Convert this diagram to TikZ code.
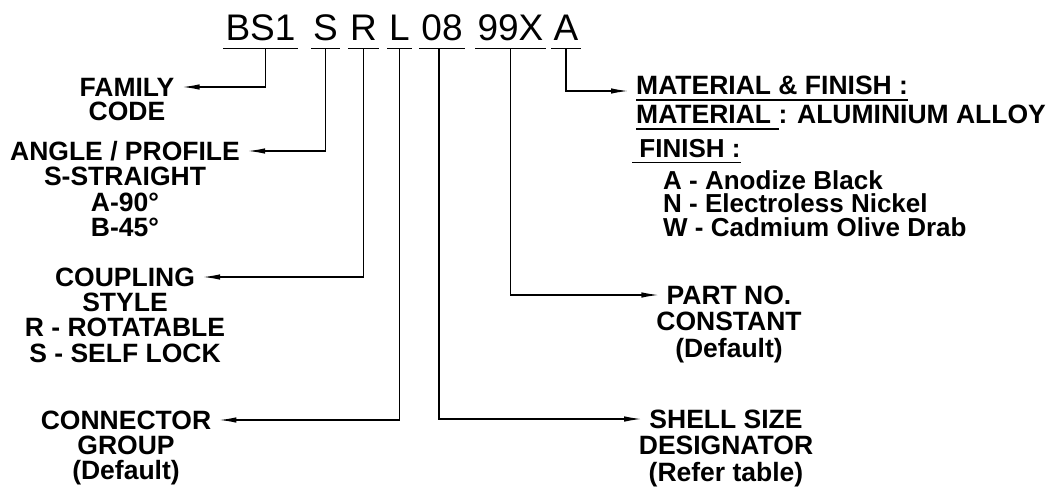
\documentclass[tikz,border=0pt]{standalone}
\usepackage{fontspec}
\setmainfont{Liberation Sans}
\usetikzlibrary{positioning,arrows.meta}

% underline with a rule a little below the baseline
\newsavebox{\ulbox}
\newcommand{\undl}[1]{\sbox{\ulbox}{#1}\rlap{\rule[-6pt]{\wd\ulbox}{1.2pt}}\usebox{\ulbox}}

\begin{document}
\begin{tikzpicture}[x=1pt,y=-1pt,
    code/.style={font=\fontsize{37}{37}\selectfont, anchor=base,
        inner xsep=2pt, inner ysep=8pt, text depth=0pt},
    head/.style={font=\fontsize{26.5}{25.5}\selectfont\bfseries,
        inner xsep=8pt, inner ysep=0pt},
    body/.style={font=\fontsize{26.5}{25.5}\selectfont\bfseries,
        inner sep=0pt, align=center},
    bodywide/.style={body, font=\fontsize{26.5}{26.5}\selectfont\bfseries},
    info/.style={font=\fontsize{26}{23.5}\selectfont\bfseries,
        inner sep=0pt, anchor=base west},
    conn/.style={line width=1.2pt, -{Latex[length=17pt,width=5.5pt]}}]
    \useasboundingbox (0,0) rectangle (1059,490);

    % Part number code
    \node[code] (bs) at (260.5,40) {BS1};
    \node[code] (st) at (325.5,40) {S};
    \node[code] (cp) at (363.5,40) {R};
    \node[code] (gr) at (399.5,40) {L};
    \node[code] (sz) at (442,40) {08};
    \node[code] (pn) at (510.5,40) {99X};
    \node[code] (mf) at (566,40) {A};
    \foreach \c in {bs,st,cp,gr,sz,pn,mf}
        \draw[line width=1.2pt] (\c.south west) -- (\c.south east);

    % Left descriptions
    \node[head] (fam) at (127,87) {FAMILY};
    \node[body, below=5pt of fam] {CODE};

    \node[head] (angle) at (125,151) {ANGLE / PROFILE};
    \node[body, below=6pt of angle] {S-STRAIGHT\\A-90°\\B-45°};

    \node[head] (coup) at (125,277) {COUPLING};
    \node[body, below=6pt of coup] {STYLE\\R - ROTATABLE\\S - SELF LOCK};

    \node[head] (grp) at (126,420) {CONNECTOR};
    \node[body, below=6pt of grp] {GROUP\\(Default)};

    % Right descriptions
    \node[head] (part) at (729,295) {PART NO.};
    \node[bodywide, below=7.5pt of part] {CONSTANT\\(Default)};

    \node[head] (shell) at (726,419) {SHELL SIZE};
    \node[bodywide, below=7.5pt of shell] {DESIGNATOR\\(Refer table)};

    % Material and finish
    \node[head, anchor=base west] (mat) at (628,94.5) {\undl{MATERIAL \& FINISH :}};
    \node[info, font=\fontsize{26.5}{26.5}\selectfont\bfseries] (matl) at (636,123.5)
        {\undl{MATERIAL\ }: ALUMINIUM ALLOY};
    \node[info] (fin) at (632,157) {\undl{\ FINISH :}};
    \node[info, anchor=north west, align=left] (finl) at (663,170)
        {A - Anodize Black\\N - Electroless Nickel\\W - Cadmium Olive Drab};

    % Connectors
    \draw[conn] ([xshift=5pt]bs.south) |- (fam.east);
    \draw[conn] (st.south) |- (angle.east);
    \draw[conn] (cp.south) |- (coup.east);
    \draw[conn] (gr.south) |- (grp.east);
    \draw[conn] ([xshift=-3pt]sz.south) |- (shell.west);
    \draw[conn] (pn.south) |- (part.west);
    \draw[conn] (mf.south) |- ([yshift=3.5pt]mat.base west);
\end{tikzpicture}
\end{document}
